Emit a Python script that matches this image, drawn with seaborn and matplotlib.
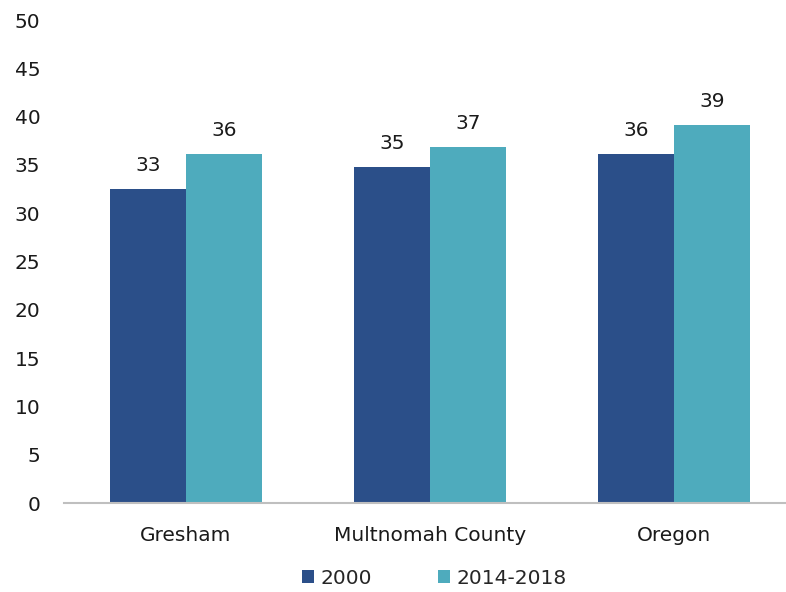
import matplotlib
matplotlib.use("Agg")
import matplotlib.pyplot as plt
import seaborn as sns
import pandas as pd

# Median age by area
areas = ["Gresham", "Multnomah County", "Oregon"]
periods = ["2000", "2014-2018"]
values_2000 = [32.5, 34.8, 36.1]
values_2014_2018 = [36.1, 36.9, 39.1]
y_ticks = [0, 5, 10, 15, 20, 25, 30, 35, 40, 45, 50]

colors = ["#2B4F89", "#4EABBD"]

df = pd.DataFrame({
    "area": areas * 2,
    "period": [periods[0]] * len(areas) + [periods[1]] * len(areas),
    "value": values_2000 + values_2014_2018,
})

sns.set_theme(style="white")
plt.rcParams["font.family"] = ["DejaVu Sans"]

fs = 14.5

fig = plt.figure(figsize=(7.86, 5.92), dpi=100)
ax = fig.add_axes([64 / 786, (592 - 503.3) / 592, 1 - 64 / 786, (503.3 - 20) / 592])

sns.barplot(data=df, x="area", y="value", hue="period", order=areas,
            hue_order=periods, palette=colors, width=0.623, saturation=1,
            ax=ax, legend=True, linewidth=0)

ax.set_ylim(0, 50)
ax.set_xlim(-0.5, 2.5 - 10 / 244)
ax.set_yticks(y_ticks)
ax.set_xlabel("")
ax.set_ylabel("")
ax.tick_params(axis="both", length=0, labelsize=fs, colors="#1a1a1a")
ax.tick_params(axis="y", pad=17)
ax.tick_params(axis="x", pad=16)

for side in ["top", "right", "left"]:
    ax.spines[side].set_visible(False)
ax.spines["bottom"].set_color("#BFBFBF")
ax.spines["bottom"].set_linewidth(1.5)

for container in ax.containers:
    labels = [f"{int(b.get_height() + 0.5)}" for b in container]
    ax.bar_label(container, labels=labels, padding=10, fontsize=fs, color="#1a1a1a")

handles, labels = ax.get_legend_handles_labels()
ax.get_legend().remove()
fig.legend(handles, labels, loc="center", bbox_to_anchor=(434.5 / 786, 1 - 578 / 592),
           ncol=2, frameon=False, fontsize=fs, handlelength=0.6, handleheight=0.6,
           handletextpad=0.3, columnspacing=3.3)

fig.savefig("out.png", dpi=100)
